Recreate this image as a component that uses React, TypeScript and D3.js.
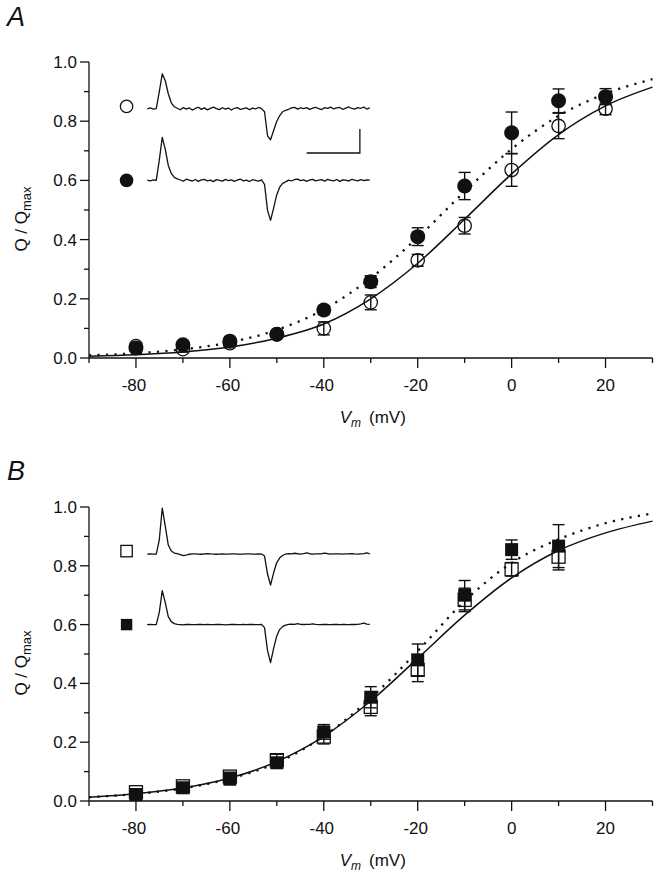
import React from "react";
import * as d3 from "d3";

// ---------- DATA ----------
const voltsA = [-80, -70, -60, -50, -40, -30, -20, -10, 0, 10, 20];
const aOpen = [0.04, 0.03, 0.05, 0.08, 0.1, 0.188, 0.33, 0.447, 0.635, 0.784, 0.842];
const aOpenErr = [0.01, 0.01, 0.01, 0.01, 0.022, 0.025, 0.02, 0.028, 0.055, 0.043, 0.02];
const aFilled = [0.034, 0.045, 0.057, 0.08, 0.162, 0.258, 0.41, 0.581, 0.761, 0.869, 0.883];
const aFilledErr = [0.01, 0.01, 0.01, 0.01, 0.015, 0.02, 0.03, 0.046, 0.07, 0.04, 0.027];

const voltsB = [-80, -70, -60, -50, -40, -30, -20, -10, 0, 10];
const bOpen = [0.03, 0.05, 0.083, 0.139, 0.219, 0.32, 0.446, 0.684, 0.788, 0.831];
const bOpenErr = [0.01, 0.01, 0.015, 0.02, 0.025, 0.03, 0.04, 0.04, 0.023, 0.045];
const bFilled = [0.022, 0.045, 0.075, 0.13, 0.235, 0.353, 0.48, 0.7, 0.855, 0.867];
const bFilledErr = [0.01, 0.01, 0.02, 0.015, 0.025, 0.036, 0.054, 0.05, 0.033, 0.073];

const fitVolts = [-90, -80, -70, -60, -50, -40, -30, -20, -10, 0, 10, 20, 30];
const aFitSolid = [0.006, 0.011, 0.02, 0.037, 0.067, 0.115, 0.2, 0.32, 0.469, 0.622, 0.755, 0.852, 0.915];
const aFitDotted = [0.009, 0.016, 0.029, 0.053, 0.095, 0.164, 0.27, 0.407, 0.562, 0.706, 0.818, 0.893, 0.942];
const bFitSolid = [0.013, 0.025, 0.044, 0.078, 0.134, 0.22, 0.34, 0.485, 0.632, 0.759, 0.852, 0.912, 0.952];
const bFitDotted = [0.013, 0.024, 0.043, 0.076, 0.13, 0.22, 0.35, 0.51, 0.68, 0.81, 0.89, 0.945, 0.978];

const yMajor = [0, 0.2, 0.4, 0.6, 0.8, 1.0];
const yMinor = [0.1, 0.3, 0.5, 0.7, 0.9];
const xMajor = [-80, -60, -40, -20, 0, 20];
const xMinor = [-90, -70, -50, -30, -10, 10, 30];

// inset current traces (samples, arbitrary units)
const traceAOpen = [
  0, 0.8, -0.3, 0.2,
  17, 35, 28, 15, 6, 2,
  0.5, -1, 1.2, -0.4, 0.8, -1.3, 0.3, 1.5, -0.6, 0.9, -1.1, 0.4, 1.6, 0.2, -0.9, 1.0, -0.3, 0.7, -1.2, 0.5, 1.1, -0.7, 0.2, 0.9, -1.0, 0.6, -0.2, 1.3, 0.1,
  -3, -27, -31, -22, -13, -7, -3, -1.5,
  -0.5, 0.8, 1.4, -0.3, 1.0, 0.2, 1.2, -0.6, 0.7, 1.5, 0.1, -0.8, 1.1, 0.4, 1.6, -0.2, 0.9, 1.3, -0.5, 0.6, 1.8, 0.3, -0.4, 1.2, 0.5, 1.7, -0.3, 0.8,
];
const traceAFilled = [
  0.3, -0.5, 0.6, 0,
  20, 43, 31, 15, 7, 3,
  1.5, 0.4, -0.8, 1.2, 0.2, -0.6, 0.9, -1.0, 0.5, 1.1, -0.4, 0.3, -1.2, 0.8, 0.1, -0.7, 1.0, -0.2, 0.6, -0.9, 0.4, 1.2, -0.5, 0.2, -1.1, 0.7, 0.0, -0.8, 0.5,
  -4, -30, -40, -28, -15, -7, -3, -1.5,
  0.3, -0.6, 0.9, 1.2, -0.2, 0.6, -0.9, 0.4, 1.0, -0.5, 0.2, 0.8, -0.7, 1.1, 0.0, -0.4, 0.9, -1.0, 0.5, 0.2, -0.6, 1.0, 0.3, -0.5, 0.7, -0.3, 0.4, 0.2,
];
const traceBOpen = [
  0, 0.2, 0, 0,
  14, 46, 28, 9, 3, 1,
  0.3, -0.5, -1.5, -1.0, -0.2, 0.2, 0.1, 0, -0.2, 0.1, 0.3, 0.1, 0, -0.2, 0, 0.2, 0, -0.1, 0.1, 0.2, 0, -0.1, 0, 0.1, 0.2, 0, -0.1, 0.1, 0,
  -2, -20, -31, -19, -9, -4, -1.5, 0,
  0.5, 0.2, 0.8, 0.3, 0, 0.4, 1.2, 0.3, 0, 0.2, 0.1, 0.3, 1.0, 0.3, 0, 0.1, 0.2, 0.1, 0, 0.2, 0.1, 0.3, 0.1, 0, 0.2, 0.4, 1.2, 0.2,
];
const traceBFilled = [
  0, 0.1, 0, 0,
  12, 34, 22, 8, 3, 1,
  0.3, 0, -0.3, 0.1, 0.2, 0, -0.1, 0.1, 0.2, 0, 0.1, -0.1, 0, 0.2, 0.1, 0, -0.2, 0, 0.1, 0.2, 0, -0.1, 0.1, 0, 0.2, 0.1, -0.1, 0, 0.1,
  -3, -26, -38, -24, -12, -5, -2, -0.5,
  0.3, 0.5, 0.2, 0.9, 0.3, 0.1, 0.2, 0.3, 0.8, 0.2, 0, 0.1, 0.3, 0.1, 0, 0.2, 0.1, 0, 0.3, 0.1, 0, 0.2, 0.1, 0.3, 0.8, 1.5, 0.4, 0.2,
];
const legendLevels = [0.85, 0.6];
const traceBaseA = [0.842, 0.6];
const traceBaseB = [0.84, 0.6];

const FONT = "'Liberation Sans', Arial, Helvetica, sans-serif";

type PanelProps = {
  label: string;
  labelBaseline: number;
  yTopPx: number;
  yZeroPx: number;
  volts: number[];
  openVals: number[];
  openErr: number[];
  filledVals: number[];
  filledErr: number[];
  solidFit: number[];
  dottedFit: number[];
  shape: "circle" | "square";
  traces: number[][];
  traceBase: number[];
  scaleBar: boolean;
};

function Panel(p: PanelProps) {
  const x = d3.scaleLinear().domain([-90, 30]).range([89, 652.5]);
  const y = d3.scaleLinear().domain([0, 1]).range([p.yZeroPx, p.yTopPx]);
  const line = d3
    .line<number>()
    .x((_, i) => x(fitVolts[i]))
    .y((d) => y(d))
    .curve(d3.curveMonotoneX);

  const tx = d3.scaleLinear().domain([0, 74]).range([x(-77.6), x(-30.2)]);
  const amp = d3.scaleLinear().domain([0, 1]).range([0, 1]);
  const traceLine = (base: number) =>
    d3
      .line<number>()
      .x((_, i) => tx(i))
      .y((d) => y(base) - amp(d))
      .curve(d3.curveLinear);

  const stroke = "#111";
  const errLine = (v: number, val: number, e: number, key: string) => (
    <g key={key} stroke={stroke} strokeWidth={1.4}>
      <line x1={x(v)} x2={x(v)} y1={y(val + e)} y2={y(val - e)} />
      <line x1={x(v) - 6} x2={x(v) + 6} y1={y(val + e)} y2={y(val + e)} />
      <line x1={x(v) - 6} x2={x(v) + 6} y1={y(val - e)} y2={y(val - e)} />
    </g>
  );

  const marker = (cx: number, cy: number, filled: boolean, size: number, key: string) =>
    p.shape === "circle" ? (
      <circle
        key={key}
        cx={cx}
        cy={cy}
        r={filled ? size : size - 0.6}
        fill={filled ? stroke : "none"}
        stroke={stroke}
        strokeWidth={filled ? 0 : 1.3}
      />
    ) : (
      <rect
        key={key}
        x={cx - size}
        y={cy - size}
        width={size * 2}
        height={size * 2}
        fill={filled ? stroke : "none"}
        stroke={stroke}
        strokeWidth={filled ? 0 : 1.3}
      />
    );

  const xAxisY = p.yZeroPx;
  const legendX = x(-82);

  return (
    <g>
      <text
        x={7}
        y={p.labelBaseline}
        fontFamily={FONT}
        fontStyle="italic"
        fontSize={27}
        fill={stroke}
      >
        {p.label}
      </text>

      {/* Y axis */}
      <line x1={x(-90)} x2={x(-90)} y1={y(0)} y2={y(1)} stroke={stroke} strokeWidth={1.3} />
      {yMajor.map((t) => (
        <g key={"ym" + t}>
          <line x1={x(-90) - 9} x2={x(-90)} y1={y(t)} y2={y(t)} stroke={stroke} strokeWidth={1.3} />
          <text
            x={x(-90) - 12}
            y={y(t) + 6}
            textAnchor="end"
            fontFamily={FONT}
            fontSize={17}
            fill={stroke}
          >
            {d3.format(".1f")(t)}
          </text>
        </g>
      ))}
      {yMinor.map((t) => (
        <line key={"yn" + t} x1={x(-90) - 5} x2={x(-90)} y1={y(t)} y2={y(t)} stroke={stroke} strokeWidth={1.3} />
      ))}
      <text
        transform={`translate(27, ${(y(0) + y(1)) / 2 + 9}) rotate(-90)`}
        textAnchor="middle"
        fontFamily={FONT}
        fontSize={17}
        fill={stroke}
      >
        Q / Q<tspan fontSize={13} dy={4}>max</tspan>
      </text>

      {/* X axis */}
      <line x1={x(-90)} x2={x(30)} y1={xAxisY} y2={xAxisY} stroke={stroke} strokeWidth={1.3} />
      {xMajor.map((t) => (
        <g key={"xm" + t}>
          <line x1={x(t)} x2={x(t)} y1={xAxisY} y2={xAxisY + 10} stroke={stroke} strokeWidth={1.3} />
          <text
            x={x(t) - (t < 0 ? 2 : 0)}
            y={xAxisY + 33}
            textAnchor="middle"
            fontFamily={FONT}
            fontSize={17}
            fill={stroke}
          >
            {t}
          </text>
        </g>
      ))}
      {xMinor.map((t) => (
        <line key={"xn" + t} x1={x(t)} x2={x(t)} y1={xAxisY} y2={xAxisY + 5} stroke={stroke} strokeWidth={1.3} />
      ))}
      <text
        x={(x(-90) + x(30)) / 2 + 2}
        y={xAxisY + 65}
        textAnchor="middle"
        fontFamily={FONT}
        fontSize={17}
        fill={stroke}
        style={{ whiteSpace: "pre" }}
      >
        <tspan fontStyle="italic">V</tspan>
        <tspan fontStyle="italic" fontSize={12} dy={4}>m</tspan>
        <tspan dy={-4} dx={8}>(mV)</tspan>
      </text>

      {/* fits */}
      <path d={line(p.solidFit) || ""} fill="none" stroke={stroke} strokeWidth={1.5} />
      <path
        d={line(p.dottedFit) || ""}
        fill="none"
        stroke={stroke}
        strokeWidth={2.3}
        strokeDasharray="2.2 6.3"
      />

      {/* error bars */}
      {p.volts.map((v, i) => errLine(v, p.openVals[i], p.openErr[i], "eo" + v))}
      {p.volts.map((v, i) => errLine(v, p.filledVals[i], p.filledErr[i], "ef" + v))}
      {/* markers */}
      {p.volts.map((v, i) => marker(x(v), y(p.openVals[i]), false, p.shape === "circle" ? 7.3 : 6.5, "mo" + v))}
      {p.volts.map((v, i) => marker(x(v), y(p.filledVals[i]), true, p.shape === "circle" ? 7.5 : 6.5, "mf" + v))}

      {/* legend markers */}
      {marker(legendX, y(legendLevels[0]), false, p.shape === "circle" ? 6.8 : 5.7, "lo")}
      {marker(legendX, y(legendLevels[1]), true, p.shape === "circle" ? 6.8 : 5.7, "lf")}

      {/* traces */}
      {p.traces.map((tr, i) => (
        <path
          key={"tr" + i}
          d={traceLine(p.traceBase[i])(tr) || ""}
          fill="none"
          stroke={stroke}
          strokeWidth={1.3}
          strokeLinejoin="round"
        />
      ))}

      {p.scaleBar && (
        <path
          d={`M${tx(53)},${y(0.6926)} H${tx(70.7)} V${y(0.6926) - amp(24)}`}
          fill="none"
          stroke={stroke}
          strokeWidth={1.3}
        />
      )}
    </g>
  );
}

export default function App() {
  return (
    <svg
      width={656}
      height={883}
      viewBox="0 0 656 883"
      style={{ position: "absolute", left: 0, top: 0, background: "#fff" }}
    >
      <rect width={656} height={883} fill="#fff" />
      <Panel
        label="A"
        labelBaseline={26}
        yTopPx={62}
        yZeroPx={358}
        volts={voltsA}
        openVals={aOpen}
        openErr={aOpenErr}
        filledVals={aFilled}
        filledErr={aFilledErr}
        solidFit={aFitSolid}
        dottedFit={aFitDotted}
        shape="circle"
        traces={[traceAOpen, traceAFilled]}
        traceBase={traceBaseA}
        scaleBar={true}
      />
      <Panel
        label="B"
        labelBaseline={480}
        yTopPx={507}
        yZeroPx={801}
        volts={voltsB}
        openVals={bOpen}
        openErr={bOpenErr}
        filledVals={bFilled}
        filledErr={bFilledErr}
        solidFit={bFitSolid}
        dottedFit={bFitDotted}
        shape="square"
        traces={[traceBOpen, traceBFilled]}
        traceBase={traceBaseB}
        scaleBar={false}
      />
    </svg>
  );
}
